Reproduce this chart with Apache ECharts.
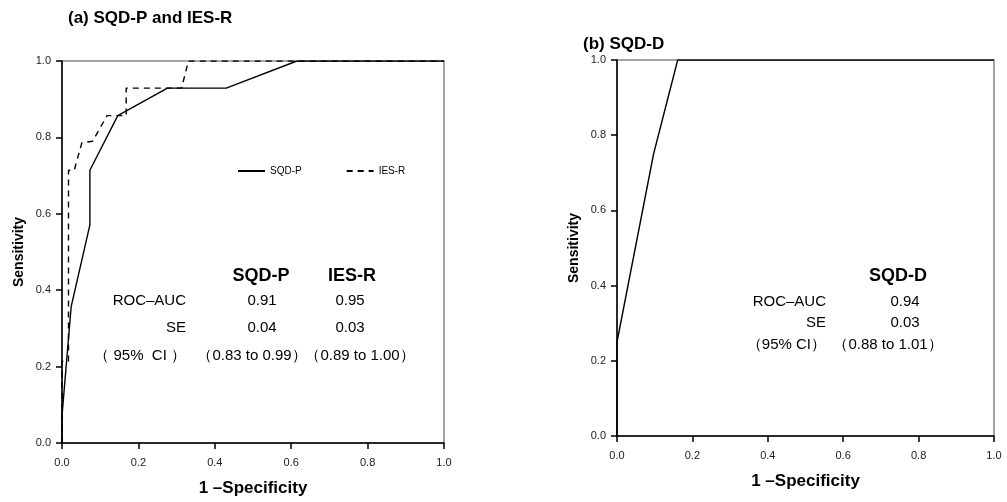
<!DOCTYPE html>
<html><head><meta charset="utf-8">
<script src="https://cdn.jsdelivr.net/npm/echarts@6/dist/echarts.min.js"></script>
<style>html,body{margin:0;padding:0;background:#fff}#c{width:1007px;height:502px}</style>
</head><body><div id="c"></div>
<script>
// ---- data ----
var sqdpX = [0, 0, 0.024, 0.073, 0.073, 0.146, 0.276, 0.43, 0.615, 1];
var sqdpY = [0, 0.071, 0.357, 0.571, 0.714, 0.857, 0.929, 0.929, 1, 1];
var iesrX = [0, 0, 0.017, 0.017, 0.032, 0.052, 0.08, 0.118, 0.168, 0.168, 0.313, 0.331, 1];
var iesrY = [0, 0.214, 0.214, 0.714, 0.714, 0.786, 0.79, 0.857, 0.857, 0.929, 0.929, 1, 1];
var sqddX = [0, 0, 0.097, 0.161, 1];
var sqddY = [0, 0.25, 0.75, 1, 1];
var tickVals = [0, 0.2, 0.4, 0.6, 0.8, 1.0];
var tableA = {
  heads: ['SQD-P', 'IES-R'],
  rows: ['ROC\u2013AUC', 'SE', '\uff08 95%  CI \uff09'],
  col1: ['0.91', '0.04', '\uff080.83 to 0.99\uff09'],
  col2: ['0.95', '0.03', '\uff080.89 to 1.00\uff09']
};
var tableB = {
  heads: ['SQD-D'],
  rows: ['ROC\u2013AUC', 'SE', '\uff0895% CI\uff09'],
  col1: ['0.94', '0.03', '\uff080.88 to 1.01\uff09']
};

function zip(xs, ys) { return xs.map(function (x, i) { return [x, ys[i]]; }); }

var FONT = 'Liberation Sans, Arial, sans-serif';
function xAx(gi) {
  return {
    type: 'value', gridIndex: gi, min: 0, max: 1, interval: 0.2,
    name: '1 \u2013Specificity', nameLocation: 'middle', nameGap: 37,
    nameTextStyle: { fontFamily: FONT, fontWeight: 'bold', fontSize: 17, color: '#000' },
    axisLine: { show: true, onZero: false, lineStyle: { color: '#000', width: 1.5 } },
    axisTick: { show: true, length: 6, lineStyle: { color: '#000', width: 1.5 } },
    axisLabel: { fontFamily: FONT, fontSize: 11, color: '#222', margin: 14, formatter: function (v) { return v.toFixed(1); } },
    splitLine: { show: false }
  };
}
function yAx(gi) {
  return {
    type: 'value', gridIndex: gi, min: 0, max: 1, interval: 0.2,
    name: 'Sensitivity', nameLocation: 'middle', nameGap: 36,
    nameTextStyle: { fontFamily: FONT, fontWeight: 'bold', fontSize: 14, color: '#000' },
    axisLine: { show: true, onZero: false, lineStyle: { color: '#000', width: 1.5 } },
    axisTick: { show: true, length: 6, lineStyle: { color: '#000', width: 1.5 } },
    axisLabel: { fontFamily: FONT, fontSize: 11, color: '#222', margin: 11, formatter: function (v) { return v.toFixed(1); } },
    splitLine: { show: false }
  };
}
function line(name, gi, data, dashed) {
  return {
    name: name, type: 'line', xAxisIndex: gi, yAxisIndex: gi, data: data,
    symbol: 'none', showSymbol: false, animation: false, silent: true,
    lineStyle: { color: '#000', width: 1.4, type: dashed ? [6, 5] : 'solid' },
    itemStyle: { color: '#000' }
  };
}
function txt(x, y, s, opt) {
  opt = opt || {};
  return {
    type: 'text', x: x, y: y, silent: true,
    style: {
      text: s, x: 0, y: 0, fill: '#000',
      font: (opt.bold ? 'bold ' : '') + (opt.size || 15) + 'px ' + FONT,
      textAlign: opt.align || 'center', textVerticalAlign: 'middle'
    }
  };
}

var g = [];
g.push(txt(68, 18, '(a) SQD-P and IES-R', { bold: true, size: 17, align: 'left' }));
g.push(txt(583, 44, '(b) SQD-D', { bold: true, size: 17, align: 'left' }));
// table A
var ay = [301, 328, 356];
g.push(txt(261, 276, tableA.heads[0], { bold: true, size: 18 }));
g.push(txt(352, 276, tableA.heads[1], { bold: true, size: 18 }));
tableA.rows.forEach(function (r, i) {
  g.push(txt(186, ay[i], r, { align: 'right' }));
  g.push(txt(i === 2 ? 252 : 262, ay[i], tableA.col1[i]));
  g.push(txt(i === 2 ? 360 : 350, ay[i], tableA.col2[i]));
});
// table B
var by = [302, 323, 345];
g.push(txt(898, 276, tableB.heads[0], { bold: true, size: 18 }));
tableB.rows.forEach(function (r, i) {
  g.push(txt(826, by[i], r, { align: 'right' }));
  g.push(txt(i === 2 ? 888 : 905, by[i], tableB.col1[i]));
});

var chart = echarts.init(document.getElementById('c'), null, { renderer: 'canvas' });
chart.setOption({
  backgroundColor: '#fff',
  animation: false,
  grid: [
    { left: 62, top: 61, width: 382, height: 382, show: true, borderColor: '#888', borderWidth: 1.5, backgroundColor: 'transparent' },
    { left: 617, top: 60, width: 377, height: 376, show: true, borderColor: '#888', borderWidth: 1.5, backgroundColor: 'transparent' }
  ],
  legend: {
    left: 232, top: 161, itemWidth: 27, itemHeight: 10, itemGap: 44,
    itemStyle: { opacity: 0 },
    textStyle: { fontFamily: FONT, fontSize: 10, color: '#000' },
    data: ['SQD-P', 'IES-R']
  },
  xAxis: [xAx(0), xAx(1)],
  yAxis: [yAx(0), yAx(1)],
  series: [
    line('SQD-P', 0, zip(sqdpX, sqdpY), false),
    line('IES-R', 0, zip(iesrX, iesrY), true),
    line('SQD-D', 1, zip(sqddX, sqddY), false)
  ],
  graphic: g
});
</script></body></html>
